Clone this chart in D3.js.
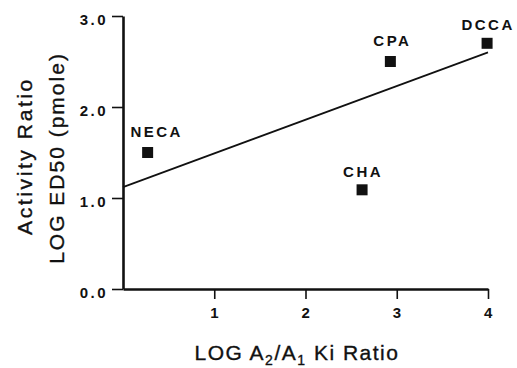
<html>
<head>
  <meta charset="UTF-8">
  <title>Activity ratio vs A2/A1 Ki ratio</title>
  <script src="https://d3js.org/d3.v7.min.js"></script>
  <style>
    body { margin: 0; background: white; }
    text { font-family: "Liberation Sans", Arial, sans-serif; fill: #111; }
  </style>
</head>
<body>

    <svg id="chart" width="517" height="368"></svg>

    <script>

        // data
        const compounds = ["NECA", "CPA", "DCCA", "CHA"];
        const kiRatio   = [0.27, 2.93, 3.99, 2.62];
        const activity  = [1.50, 2.50, 2.70, 1.09];
        const fitX = [0, 4];
        const fitY = [1.12, 2.60];
        const xTicks = [1, 2, 3, 4];
        const yTicks = [0, 1, 2, 3];

        const svg = d3.select("#chart");
        const margin = { top: 16, right: 29, bottom: 79, left: 123 };
        const width = +svg.attr("width");
        const height = +svg.attr("height");

        const x = d3.scaleLinear().domain([0, 4]).range([margin.left, width - margin.right]);
        const y = d3.scaleLinear().domain([0, 3]).range([height - margin.bottom, margin.top]);

        // axes
        const xAxis = svg.append("g")
            .attr("transform", "translate(0," + y(0) + ")")
            .call(d3.axisBottom(x).tickValues(xTicks).tickSize(10).tickSizeOuter(0).tickPadding(8).tickFormat(d3.format("d")));
        const yAxis = svg.append("g")
            .attr("transform", "translate(" + x(0) + ",0)")
            .call(d3.axisLeft(y).tickValues(yTicks).tickSize(11).tickSizeOuter(0).tickPadding(4).tickFormat(d3.format(".1f")));

        [xAxis, yAxis].forEach(a => {
            a.select(".domain").attr("stroke", "#111").attr("stroke-width", 2.6);
            a.selectAll(".tick line").attr("stroke", "#111").attr("stroke-width", 1.6);
            a.selectAll(".tick text")
                .style("font-family", "Liberation Sans, Arial, sans-serif")
                .style("font-weight", "bold")
                .style("font-size", "15px")
                .style("letter-spacing", "2.5px")
                .attr("fill", "#111");
        });
        yAxis.selectAll(".tick text").attr("dy", "0.55em");
        xAxis.selectAll(".tick text").attr("dx", "1px");

        // regression line
        svg.append("line")
            .attr("x1", x(fitX[0])).attr("y1", y(fitY[0]))
            .attr("x2", x(fitX[1])).attr("y2", y(fitY[1]))
            .attr("stroke", "#111")
            .attr("stroke-width", 1.7);

        // points
        const pts = compounds.map((c, i) => ({ name: c, x: kiRatio[i], y: activity[i] }));
        const sz = 11;
        svg.selectAll("rect.pt").data(pts)
            .join("rect")
            .attr("class", "pt")
            .attr("x", d => x(d.x) - sz / 2)
            .attr("y", d => y(d.y) - sz / 2)
            .attr("width", sz)
            .attr("height", sz)
            .attr("fill", "#111");

        const labelShift = { NECA: [9, -16], CPA: [2, -16], DCCA: [1, -13], CHA: [1, -13] };
        svg.selectAll("text.lbl").data(pts)
            .join("text")
            .attr("class", "lbl")
            .attr("x", d => x(d.x) + labelShift[d.name][0])
            .attr("y", d => y(d.y) + labelShift[d.name][1])
            .attr("text-anchor", "middle")
            .style("font-weight", "bold")
            .style("font-size", "15px")
            .style("letter-spacing", "2.5px")
            .text(d => d.name);

        // axis titles
        const xt = svg.append("text")
            .attr("x", 297)
            .attr("y", 360)
            .attr("text-anchor", "middle")
            .style("font-size", "21px")
            .style("letter-spacing", "1.5px")
            .style("stroke", "#111")
            .style("stroke-width", "0.35px");
        xt.append("tspan").text("LOG A");
        xt.append("tspan").attr("dy", 5).style("font-size", "14px").text("2");
        xt.append("tspan").attr("dy", -5).text("/A");
        xt.append("tspan").attr("dy", 5).style("font-size", "14px").text("1");
        xt.append("tspan").attr("dy", -5).text(" Ki Ratio");

        svg.append("text")
            .attr("transform", "translate(32,156) rotate(-90)")
            .attr("text-anchor", "middle")
            .style("font-size", "21px")
            .style("letter-spacing", "2.6px")
            .style("stroke", "#111")
            .style("stroke-width", "0.35px")
            .text("Activity Ratio");
        svg.append("text")
            .attr("transform", "translate(64,158) rotate(-90)")
            .attr("text-anchor", "middle")
            .style("font-size", "21px")
            .style("letter-spacing", "2px")
            .style("stroke", "#111")
            .style("stroke-width", "0.35px")
            .text("LOG ED50 (pmole)");

    </script>

</body>
</html>
